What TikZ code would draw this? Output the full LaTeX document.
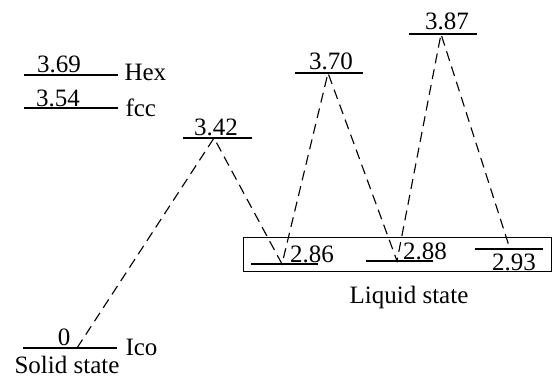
\documentclass[tikz,border=0pt]{standalone}
\usepackage{fontspec}
\setmainfont{Liberation Serif}
\usetikzlibrary{positioning}
\begin{document}
\begin{tikzpicture}[x=0.4pt,y=-0.4pt,
  every node/.style={font=\fontsize{10}{12}\selectfont, inner sep=0pt},
  levelline/.style={line width=0.8pt},
  hop/.style={dash pattern=on 4pt off 2.4pt, line width=0.45pt}]
\useasboundingbox (0,0) rectangle (553,376);
% solid-state levels
\coordinate (hexL) at (24,75);   \coordinate (hexR) at (118,75);
\coordinate (fccL) at (24,108);  \coordinate (fccR) at (118,108);
\coordinate (icoL) at (23,348);  \coordinate (icoR) at (117,348);
\draw[levelline] (hexL) -- (hexR);
\draw[levelline] (fccL) -- (fccR);
\draw[levelline] (icoL) -- (icoR);
\node[anchor=base] (e369) at (59,72) {3.69};
\node[anchor=base] (e354) at (58,106) {3.54};
\node[anchor=base] (e0) at (64,345) {0};
\node[anchor=base west] (hex) at (124,80) {Hex};
\node[anchor=base west] (fcc) at (125,116) {fcc};
\node[anchor=base west] (ico) at (125,355) {Ico};
\node[anchor=base] (solid) at (67,373) {Solid state};
% barrier levels
\coordinate (b342L) at (183,138); \coordinate (b342R) at (252,138);
\coordinate (b370L) at (295,73);  \coordinate (b370R) at (363,73);
\coordinate (b387L) at (409,34);  \coordinate (b387R) at (477,34);
\draw[levelline] (b342L) -- (b342R);
\draw[levelline] (b370L) -- (b370R);
\draw[levelline] (b387L) -- (b387R);
\node[anchor=base] (e342) at (216,135) {3.42};
\node[anchor=base] (e370) at (331,69) {3.70};
\node[anchor=base] (e387) at (447,29) {3.87};
% liquid-state levels
\draw[line width=0.4pt] (243,237) rectangle (551.5,271);
\coordinate (l286L) at (251,264); \coordinate (l286R) at (318,264);
\coordinate (l288L) at (366,261); \coordinate (l288R) at (433,261);
\coordinate (l293L) at (475,249); \coordinate (l293R) at (543,249);
\draw[levelline] (l286L) -- (l286R);
\draw[levelline] (l288L) -- (l288R);
\draw[levelline] (l293L) -- (l293R);
\node[anchor=base] (e286) at (312,262) {2.86};
\node[anchor=base] (e288) at (425,259) {2.88};
\node[anchor=base] (e293) at (514,270) {2.93};
\node[anchor=base] (liquid) at (409,303) {Liquid state};
% transition path
\coordinate (p0) at (77,348);
\coordinate (p342) at (214,138);
\coordinate (p286) at (282,264);
\coordinate (p370) at (328,73);
\coordinate (p288) at (397,261);
\coordinate (p387) at (441,34);
\coordinate (p293) at (510,249);
\draw[hop] (p0) -- (p342) -- (p286) -- (p370) -- (p288) -- (p387) -- (p293);
\end{tikzpicture}
\end{document}
